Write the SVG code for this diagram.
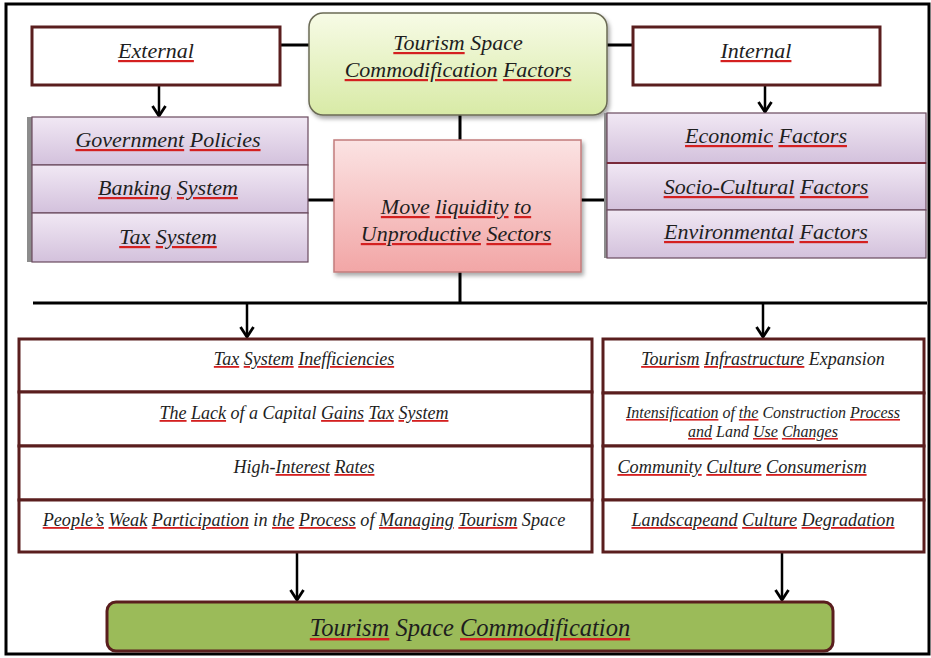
<svg xmlns="http://www.w3.org/2000/svg" width="931" height="658" viewBox="0 0 931 658">
<defs>
<linearGradient id="gTop" x1="0" y1="0" x2="0" y2="1"><stop offset="0" stop-color="#f7fbe6"/><stop offset="1" stop-color="#d8eaa6"/></linearGradient>
<linearGradient id="gPink" x1="0" y1="0" x2="0" y2="1"><stop offset="0" stop-color="#fbe3e3"/><stop offset="1" stop-color="#f2a6a6"/></linearGradient>
<linearGradient id="gLav" x1="0" y1="0" x2="0" y2="1"><stop offset="0" stop-color="#f1e8f4"/><stop offset="1" stop-color="#d3c1dc"/></linearGradient>
<filter id="sh" x="-10%" y="-10%" width="120%" height="130%"><feDropShadow dx="2" dy="3" stdDeviation="2" flood-color="#000" flood-opacity="0.35"/></filter>
<marker id="ah" viewBox="0 0 14 16" refX="12" refY="8" markerWidth="14" markerHeight="16" markerUnits="userSpaceOnUse" orient="auto">
<path d="M2,1.5 L12,8 L2,14.5" fill="none" stroke="#000" stroke-width="2.8"/>
</marker>
</defs>
<style>
text{font-family:"Liberation Serif","DejaVu Serif",serif;font-style:italic;fill:#1e1e1e;text-anchor:middle}
.u{fill:#d42020;text-decoration:underline}
.u tspan{fill:#1e1e1e}
.box{fill:#fff;stroke:#5a1e1e;stroke-width:3}
.cell{fill:url(#gLav);stroke:#6a4a5e;stroke-width:1.2}
.row{fill:#fff;stroke:#5a1e1e;stroke-width:3}
.ln{stroke:#000;stroke-width:3;fill:none}
.ar{stroke:#000;stroke-width:2.5;fill:none;marker-end:url(#ah)}
</style>
<rect x="6" y="4" width="923" height="650" fill="#fff" stroke="#000" stroke-width="3"/>

<g id="connectors">
<line class="ln" x1="280" y1="45" x2="310" y2="45"/>
<line class="ln" x1="606" y1="45" x2="633" y2="45"/>
<line class="ln" x1="460" y1="115" x2="460" y2="141"/>
<line class="ln" x1="308" y1="200" x2="334" y2="200"/>
<line class="ln" x1="581" y1="200" x2="607" y2="200"/>
<line class="ln" x1="460" y1="272" x2="460" y2="303"/>
<line class="ln" x1="33" y1="303" x2="927" y2="303"/>
<path class="ar" d="M159,86 V116"/>
<path class="ar" d="M765,86 V112"/>
<path class="ar" d="M247,303 V337"/>
<path class="ar" d="M763,303 V337"/>
<path class="ar" d="M297,553 V600"/>
<path class="ar" d="M782,553 V600"/>
</g>

<g id="external">
<rect class="box" x="32" y="27" width="248" height="58"/>
<text x="156" y="58" font-size="22"><tspan class="u"><tspan>External</tspan></tspan></text>
</g>

<g id="factors">
<rect x="309" y="13" width="298" height="102" rx="14" fill="url(#gTop)" stroke="#6b6b55" stroke-width="1.5" filter="url(#sh)"/>
<text x="458" y="50" font-size="22"><tspan class="u"><tspan>Tourism</tspan></tspan> Space</text>
<text x="458" y="77" font-size="22"><tspan class="u"><tspan>Commodification</tspan></tspan> <tspan class="u"><tspan>Factors</tspan></tspan></text>
</g>

<g id="internal">
<rect class="box" x="633" y="27" width="247" height="58"/>
<text x="756" y="58" font-size="22"><tspan class="u"><tspan>Internal</tspan></tspan></text>
</g>

<g id="external-list">
<rect x="27" y="117" width="6" height="145" fill="#8c8c8c"/>
<rect class="cell" x="32" y="117" width="276" height="48"/>
<rect class="cell" x="32" y="165" width="276" height="48"/>
<rect class="cell" x="32" y="213" width="276" height="49"/>
<text x="168" y="147" font-size="22"><tspan class="u"><tspan>Government</tspan></tspan> <tspan class="u"><tspan>Policies</tspan></tspan></text>
<text x="168" y="195" font-size="22"><tspan class="u"><tspan>Banking</tspan></tspan> <tspan class="u"><tspan>System</tspan></tspan></text>
<text x="168" y="244" font-size="22"><tspan class="u"><tspan>Tax</tspan></tspan> <tspan class="u"><tspan>System</tspan></tspan></text>
</g>

<g id="move-liquidity">
<rect x="334" y="140" width="247" height="132" fill="url(#gPink)" stroke="#c27c7c" stroke-width="1.5" filter="url(#sh)"/>
<text x="456" y="214" font-size="22"><tspan class="u"><tspan>Move</tspan></tspan> <tspan class="u"><tspan>liquidity</tspan></tspan> <tspan class="u"><tspan>to</tspan></tspan></text>
<text x="456" y="241" font-size="22"><tspan class="u"><tspan>Unproductive</tspan></tspan> <tspan class="u"><tspan>Sectors</tspan></tspan></text>
</g>

<g id="internal-list">
<rect x="604" y="113" width="6" height="145" fill="#8c8c8c"/>
<rect class="cell" x="607" y="113" width="319" height="50"/>
<rect class="cell" x="607" y="163" width="319" height="47"/>
<rect class="cell" x="607" y="210" width="319" height="48"/>
<rect x="607" y="162" width="319" height="2" fill="#7a2a3a"/>
<text x="766" y="143" font-size="22"><tspan class="u"><tspan>Economic</tspan></tspan> <tspan class="u"><tspan>Factors</tspan></tspan></text>
<text x="766" y="194" font-size="22"><tspan class="u"><tspan>Socio-Cultural</tspan></tspan> <tspan class="u"><tspan>Factors</tspan></tspan></text>
<text x="766" y="239" font-size="22"><tspan class="u"><tspan>Environmental</tspan></tspan> <tspan class="u"><tspan>Factors</tspan></tspan></text>
</g>

<g id="external-effects">
<rect class="row" x="19" y="339" width="573" height="53"/>
<rect class="row" x="19" y="392" width="573" height="54"/>
<rect class="row" x="19" y="446" width="573" height="54"/>
<rect class="row" x="19" y="500" width="573" height="52"/>
<text x="304" y="365" font-size="18"><tspan class="u"><tspan>Tax</tspan></tspan> <tspan class="u"><tspan>System</tspan></tspan> <tspan class="u"><tspan>Inefficiencies</tspan></tspan></text>
<text x="304" y="419" font-size="18"><tspan class="u"><tspan>The</tspan></tspan> <tspan class="u"><tspan>Lack</tspan></tspan> of a Capital <tspan class="u"><tspan>Gains</tspan></tspan> <tspan class="u"><tspan>Tax</tspan></tspan> <tspan class="u"><tspan>System</tspan></tspan></text>
<text x="304" y="473" font-size="18">High-<tspan class="u"><tspan>Interest</tspan></tspan> <tspan class="u"><tspan>Rates</tspan></tspan></text>
<text x="304" y="526" font-size="18.2"><tspan class="u"><tspan>People’s</tspan></tspan> <tspan class="u"><tspan>Weak</tspan></tspan> <tspan class="u"><tspan>Participation</tspan></tspan> in <tspan class="u"><tspan>the</tspan></tspan> <tspan class="u"><tspan>Process</tspan></tspan> of <tspan class="u"><tspan>Managing</tspan></tspan> <tspan class="u"><tspan>Tourism</tspan></tspan> Space</text>
</g>

<g id="internal-effects">
<rect class="row" x="603" y="339" width="321" height="54"/>
<rect class="row" x="603" y="393" width="321" height="53"/>
<rect class="row" x="603" y="446" width="321" height="54"/>
<rect class="row" x="603" y="500" width="321" height="52"/>
<text x="763" y="365" font-size="18"><tspan class="u"><tspan>Tourism</tspan></tspan> <tspan class="u"><tspan>Infrastructure</tspan></tspan> Expansion</text>
<text x="763" y="418" font-size="16"><tspan class="u"><tspan>Intensification</tspan></tspan> of <tspan class="u"><tspan>the</tspan></tspan> Construction <tspan class="u"><tspan>Process</tspan></tspan></text>
<text x="763" y="437" font-size="16"><tspan class="u"><tspan>and</tspan></tspan> Land <tspan class="u"><tspan>Use</tspan></tspan> <tspan class="u"><tspan>Changes</tspan></tspan></text>
<text x="742" y="473" font-size="18.3"><tspan class="u"><tspan>Community</tspan></tspan> <tspan class="u"><tspan>Culture</tspan></tspan> <tspan class="u"><tspan>Consumerism</tspan></tspan></text>
<text x="763" y="526" font-size="18.2"><tspan class="u"><tspan>Landscapeand</tspan></tspan> <tspan class="u"><tspan>Culture</tspan></tspan> <tspan class="u"><tspan>Degradation</tspan></tspan></text>
</g>

<g id="commodification">
<rect x="107" y="602" width="726" height="49" rx="9" fill="#9bbb59" stroke="#5a1e1e" stroke-width="3"/>
<text x="470" y="636" font-size="24.5"><tspan class="u"><tspan>Tourism</tspan></tspan> Space <tspan class="u"><tspan>Commodification</tspan></tspan></text>
</g>
</svg>
